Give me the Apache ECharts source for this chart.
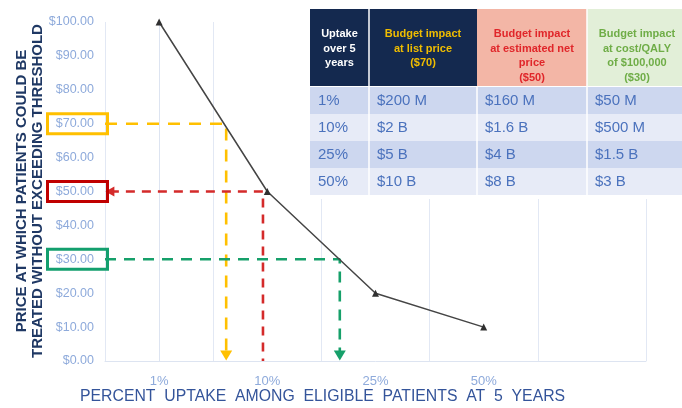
<!DOCTYPE html>
<html>
<head>
<meta charset="utf-8">
<script src="https://cdn.jsdelivr.net/npm/echarts@6/dist/echarts.min.js"></script>
<style>
  html, body { margin: 0; padding: 0; background: #ffffff; }
  #chart { width: 682px; height: 408px; }
</style>
</head>
<body>
<div id="chart"></div>
<script>
// Uptake categories on the x axis (last slot left empty)
const categories = ['1%', '10%', '25%', '50%', ''];
// Price at which patients could be treated without exceeding threshold
const priceAtUptake = [100, 50, 20, 10];

// Threshold prices and where each crosses the curve (in category-index units)
const thresholdPrices = [70, 50, 30];
const thresholdUptake = [0.62, 0.96, 1.67];
const thresholdColors = ['#ffc000', '#d42a2a', '#16a06a'];
const thresholdBoxColors = ['#ffc000', '#c00000', '#139f6e'];
const thresholdDash = [[12, 9], [9, 7], [11, 8]];

// Budget impact table
const tableHeader = [
  ['Uptake', 'over 5', 'years'],
  ['Budget impact', 'at list price', '($70)'],
  ['Budget impact', 'at estimated net', 'price', '($50)'],
  ['Budget impact', 'at cost/QALY', 'of $100,000', '($30)']
];
const uptakeCol = ['1%', '10%', '25%', '50%'];
const listPriceCol = ['$200 M', '$2 B', '$5 B', '$10 B'];
const netPriceCol = ['$160 M', '$1.6 B', '$4 B', '$8 B'];
const qalyPriceCol = ['$50 M', '$500 M', '$1.5 B', '$3 B'];

const chart = echarts.init(document.getElementById('chart'), null, { renderer: 'canvas' });

const FONT = '"Liberation Sans", Arial, sans-serif';

// Dashed guide lines: horizontal from the axis to the curve, then down to the x axis
const guideSeries = thresholdPrices.map(function (p, i) {
  const x = thresholdUptake[i];
  let data;
  if (i === 1) {
    // red guide: arrow points back at the price label
    data = [
      { value: [-0.455, p], symbol: 'triangle', symbolRotate: 90, symbolSize: [10, 9] },
      { value: [x, p], symbol: 'none' },
      { value: [x, 0], symbol: 'none' }
    ];
  } else {
    data = [
      { value: [-0.5, p], symbol: 'none' },
      { value: [x, p], symbol: 'none' },
      { value: [x, 1.6], symbol: 'triangle', symbolRotate: 180, symbolSize: [12, 10] }
    ];
  }
  return {
    type: 'line',
    xAxisIndex: 1,
    yAxisIndex: 0,
    data: data,
    showSymbol: true,
    lineStyle: { color: thresholdColors[i], width: 2.6, type: thresholdDash[i] },
    itemStyle: { color: thresholdColors[i] },
    silent: true,
    animation: false,
    z: 3
  };
});

const option = {
  backgroundColor: '#ffffff',
  animation: false,
  grid: { left: 105, right: 36, top: 22, bottom: 47, containLabel: false },
  xAxis: [
    {
      type: 'category',
      data: categories,
      boundaryGap: true,
      axisTick: { show: false },
      axisLine: { show: true, lineStyle: { color: '#dde4f1', width: 1 } },
      splitLine: { show: true, lineStyle: { color: '#e2e8f4', width: 1 } },
      axisLabel: { color: '#8eaadb', fontSize: 13, fontFamily: FONT, margin: 14 }
    },
    {
      type: 'value',
      min: -0.5,
      max: 4.5,
      show: false
    }
  ],
  yAxis: {
    type: 'value',
    min: 0,
    max: 100,
    interval: 10,
    axisLine: { show: true, lineStyle: { color: '#dde4f1', width: 1 } },
    axisTick: { show: false },
    splitLine: { show: false },
    axisLabel: {
      color: '#8eaadb',
      fontSize: 12.5,
      fontFamily: FONT,
      margin: 11,
      formatter: function (v) { return '$' + v.toFixed(2); }
    }
  },
  series: [
    {
      type: 'line',
      xAxisIndex: 0,
      data: priceAtUptake,
      symbol: 'triangle',
      symbolSize: 7,
      lineStyle: { color: '#454545', width: 1.5 },
      itemStyle: { color: '#303030' },
      z: 4
    }
  ].concat(guideSeries)
};

chart.setOption(option);

// Annotation boxes around the threshold price labels, placed from the y scale
const graphics = [];
thresholdPrices.forEach(function (p, i) {
  const py = chart.convertToPixel({ yAxisIndex: 0 }, p);
  graphics.push({
    type: 'rect',
    shape: { x: 47.5, y: py - 10, width: 60, height: 20 },
    style: { fill: 'none', stroke: thresholdBoxColors[i], lineWidth: 3 },
    z: 10
  });
});

// Axis titles
graphics.push({
  type: 'text',
  x: 30, y: 191,
  rotation: Math.PI / 2,
  style: {
    text: 'PRICE AT WHICH PATIENTS COULD BE\nTREATED WITHOUT EXCEEDING THRESHOLD',
    fill: '#1f3864',
    font: 'bold 15px ' + FONT,
    lineHeight: 16,
    align: 'center', verticalAlign: 'middle',
    textAlign: 'center', textVerticalAlign: 'middle'
  },
  z: 10
});
graphics.push({
  type: 'text',
  x: 80, y: 397,
  style: {
    text: 'PERCENT  UPTAKE  AMONG  ELIGIBLE  PATIENTS  AT  5  YEARS',
    fill: '#34549a',
    font: '15.8px ' + FONT,
    align: 'left', verticalAlign: 'middle',
    textAlign: 'left', textVerticalAlign: 'middle'
  },
  z: 10
});

// Table geometry
const colX = [310, 369, 477, 587, 690];
const headTop = 9, headBottom = 86;
const rowTop = 87, rowH = 27;
const headFill = ['#14294f', '#14294f', '#f3b6a6', '#e2efd8'];
const headText = ['#ffffff', '#f0bd00', '#e0262a', '#6fad47'];
const bodyFill = ['#cdd7ef', '#e7ebf7'];
const bodyCols = [uptakeCol, listPriceCol, netPriceCol, qalyPriceCol];

// white backdrop so the grid does not show through the table
graphics.push({
  type: 'rect',
  shape: { x: colX[0] - 2, y: headTop - 2, width: 682 - colX[0] + 4, height: rowTop + 4 * rowH - headTop + 6 },
  style: { fill: '#ffffff' },
  z: 20
});

for (let c = 0; c < 4; c++) {
  const x0 = colX[c], x1 = colX[c + 1];
  graphics.push({
    type: 'rect',
    shape: { x: x0, y: headTop, width: x1 - x0, height: headBottom - headTop },
    style: { fill: headFill[c] },
    z: 21
  });
  tableHeader[c].forEach(function (line, k) {
    graphics.push({
      type: 'text',
      x: (x0 + Math.min(x1, 687)) / 2,
      y: 34 + k * 14.5,
      style: {
        text: line,
        fill: headText[c],
        font: 'bold 11px ' + FONT,
        align: 'center', verticalAlign: 'middle',
        textAlign: 'center', textVerticalAlign: 'middle'
      },
      z: 23
    });
  });
  for (let r = 0; r < 4; r++) {
    const y0 = rowTop + r * rowH;
    graphics.push({
      type: 'rect',
      shape: { x: x0, y: y0, width: x1 - x0, height: rowH },
      style: { fill: bodyFill[r % 2] },
      z: 21
    });
    graphics.push({
      type: 'text',
      x: x0 + 8,
      y: y0 + rowH / 2 + 0.5,
      style: {
        text: bodyCols[c][r],
        fill: '#4b72bd',
        font: '15px ' + FONT,
        align: 'left', verticalAlign: 'middle',
        textAlign: 'left', textVerticalAlign: 'middle'
      },
      z: 23
    });
  }
}
// thin white column separators
[1, 3].forEach(function (c) {
  graphics.push({
    type: 'rect',
    shape: { x: colX[c] - 0.75, y: headTop, width: 1.5, height: rowTop + 4 * rowH - headTop },
    style: { fill: '#ffffff' },
    z: 22
  });
});
graphics.push({
  type: 'rect',
  shape: { x: colX[2] - 0.75, y: headBottom, width: 1.5, height: rowTop + 4 * rowH - headBottom },
  style: { fill: '#ffffff' },
  z: 22
});

chart.setOption({ graphic: { elements: graphics } });
</script>
</body>
</html>
